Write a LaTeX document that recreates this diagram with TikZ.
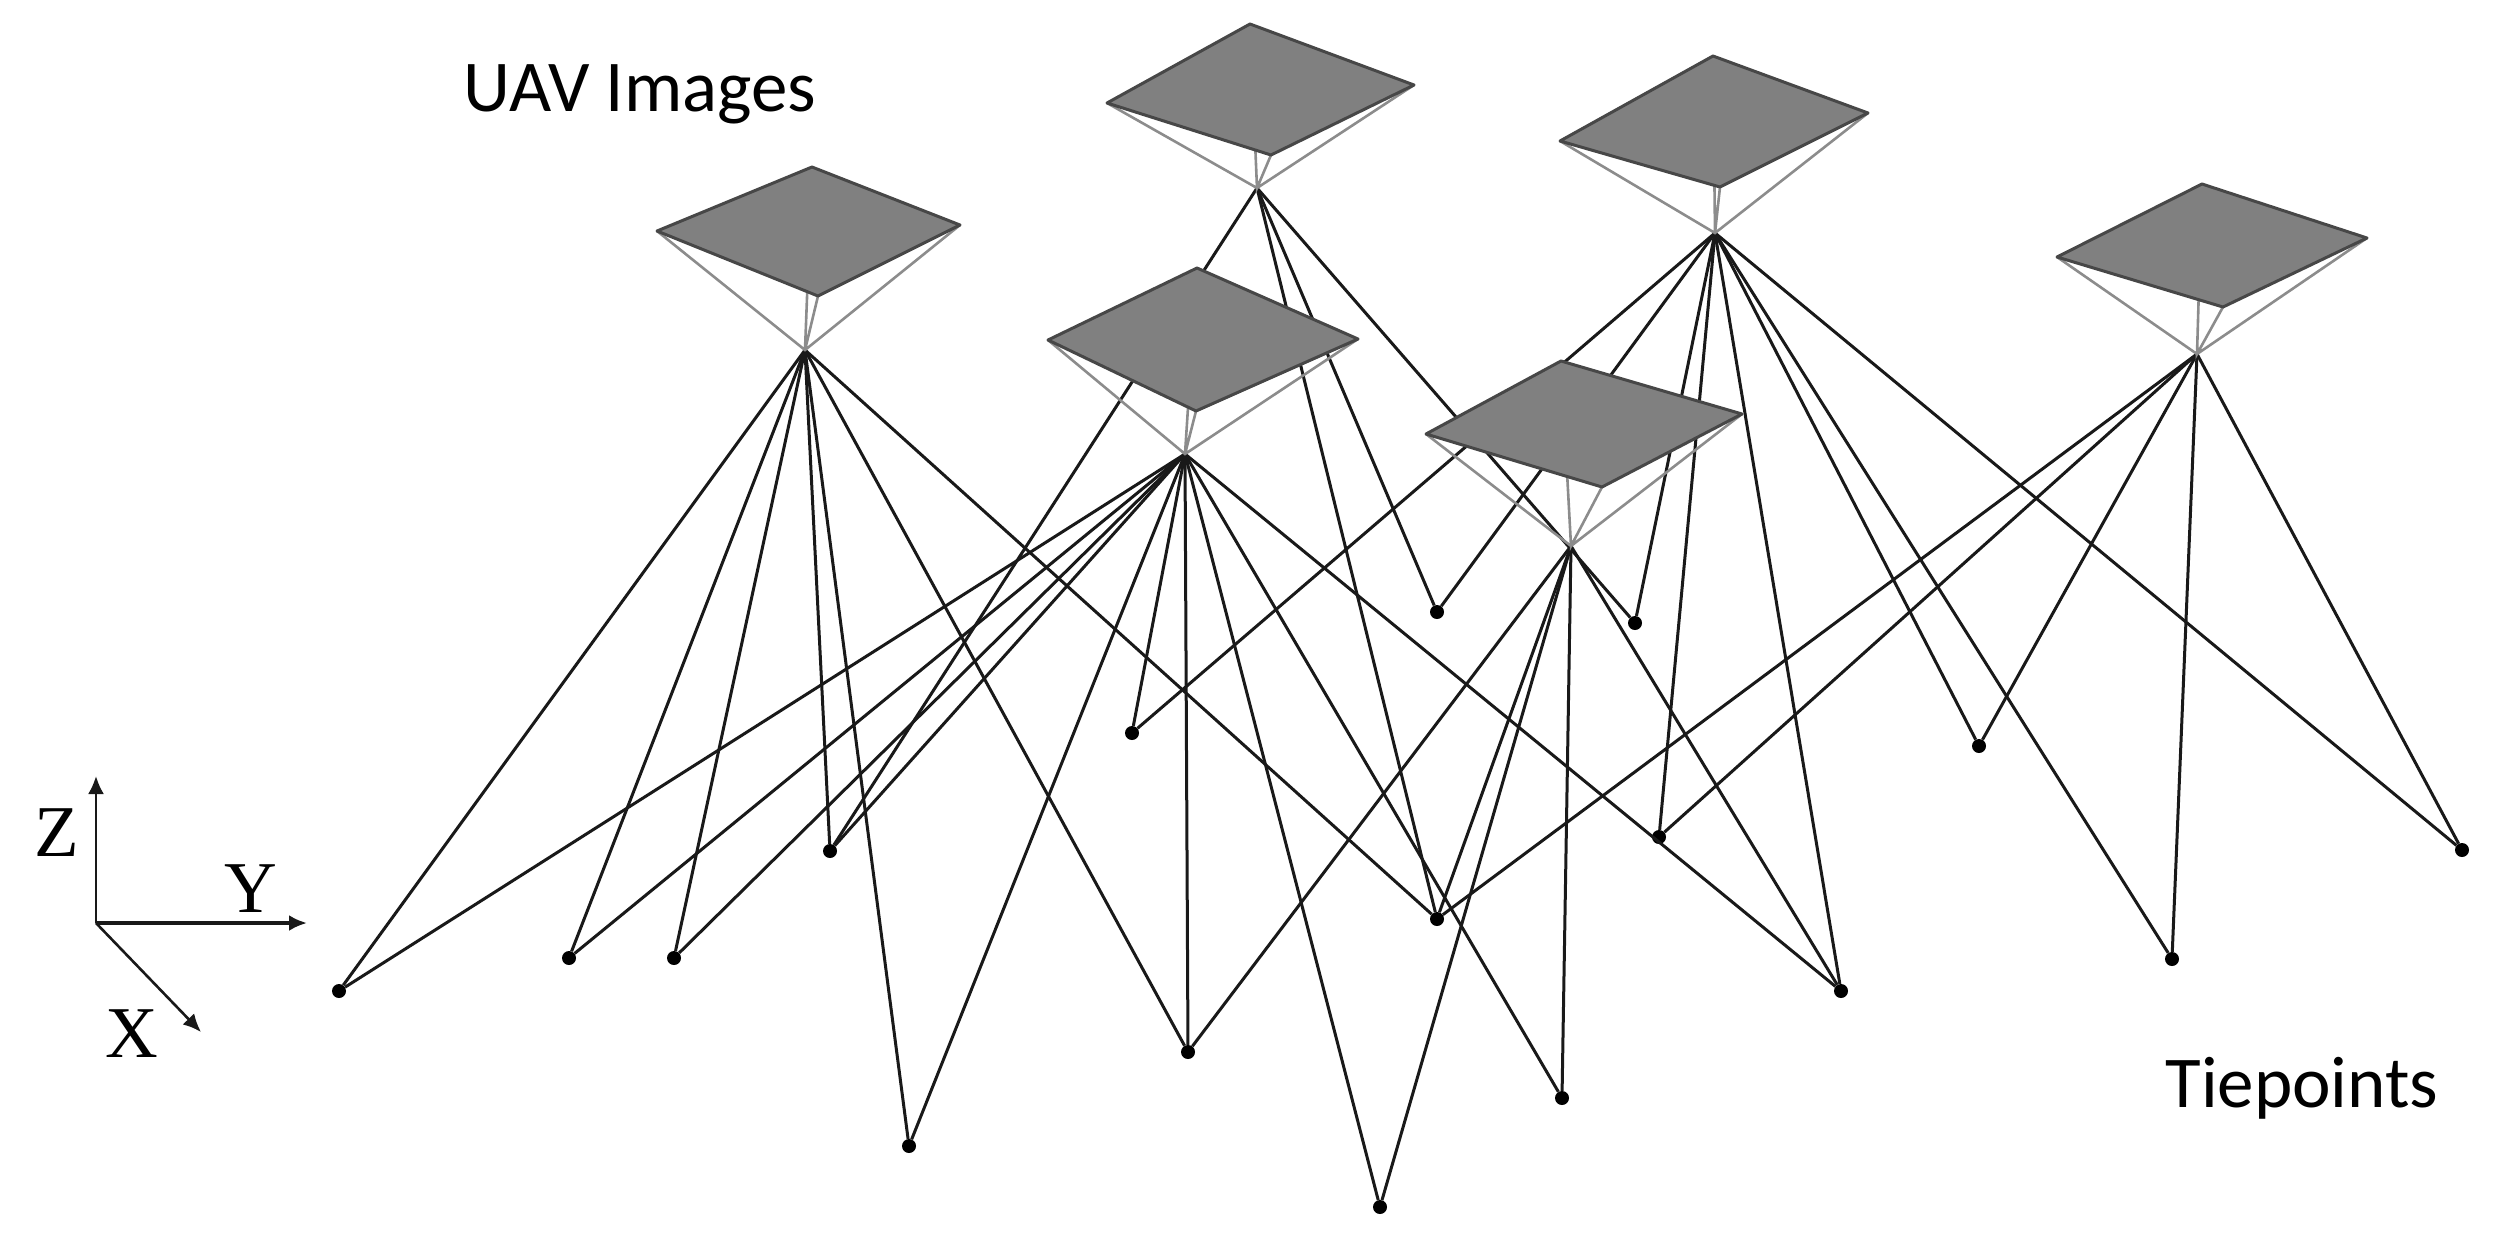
\documentclass[tikz,border=0pt]{standalone}
\usepackage{fontspec}
\setmainfont{Carlito}
\newfontfamily\axisfont{Liberation Serif}
\usetikzlibrary{arrows.meta}
\begin{document}
\begin{tikzpicture}[x=1pt,y=-1pt,>={Latex[length=18pt,width=16pt]},
  ray/.style={draw=black!90,line width=3pt},
  cone/.style={draw=black!45,line width=2.6pt},
  plate/.style={draw=black!72,line width=3pt,fill=black!50,line join=round},
  tie/.style={circle,fill=black,inner sep=0pt,minimum size=14pt},
  axis/.style={black!90,line width=2.6pt},
  axislab/.style={inner sep=0pt,font=\axisfont\fontsize{73}{73}\selectfont},
  lab/.style={inner sep=0pt,font=\fontsize{73}{73}\selectfont}]
  \useasboundingbox (0,0) rectangle (2504,1240);
  % perspective centres
  \coordinate (c1) at (805,350);
  \coordinate (c2) at (1257,188);
  \coordinate (c3) at (1185,454);
  \coordinate (c4) at (1715,233);
  \coordinate (c5) at (1571,546);
  \coordinate (c6) at (2197,354);
  % tiepoints
  \node[tie] (p1) at (339,991) {};
  \node[tie] (p2) at (569,958) {};
  \node[tie] (p3) at (674,958) {};
  \node[tie] (p4) at (830,851) {};
  \node[tie] (p5) at (909,1146) {};
  \node[tie] (p6) at (1132,733) {};
  \node[tie] (p7) at (1188,1052) {};
  \node[tie] (p8) at (1380,1207) {};
  \node[tie] (p9) at (1437,919) {};
  \node[tie] (p10) at (1437,612) {};
  \node[tie] (p11) at (1562,1098) {};
  \node[tie] (p12) at (1635,623) {};
  \node[tie] (p13) at (1659,837) {};
  \node[tie] (p14) at (1841,991) {};
  \node[tie] (p15) at (1979,746) {};
  \node[tie] (p16) at (2172,959) {};
  \node[tie] (p17) at (2462,850) {};
  % image rays
  \draw[ray] (c1)--(p1); \draw[ray] (c1)--(p2); \draw[ray] (c1)--(p3); \draw[ray] (c1)--(p4);
  \draw[ray] (c1)--(p5); \draw[ray] (c1)--(p7); \draw[ray] (c1)--(p9);
  \draw[ray] (c2)--(p4); \draw[ray] (c2)--(p9); \draw[ray] (c2)--(p10); \draw[ray] (c2)--(p12);
  \draw[ray] (c3)--(p1); \draw[ray] (c3)--(p2); \draw[ray] (c3)--(p3); \draw[ray] (c3)--(p4);
  \draw[ray] (c3)--(p5); \draw[ray] (c3)--(p6); \draw[ray] (c3)--(p7); \draw[ray] (c3)--(p8);
  \draw[ray] (c3)--(p11); \draw[ray] (c3)--(p14);
  \draw[ray] (c4)--(p6); \draw[ray] (c4)--(p10); \draw[ray] (c4)--(p12); \draw[ray] (c4)--(p13);
  \draw[ray] (c4)--(p14); \draw[ray] (c4)--(p15); \draw[ray] (c4)--(p16); \draw[ray] (c4)--(p17);
  \draw[ray] (c5)--(p7); \draw[ray] (c5)--(p8); \draw[ray] (c5)--(p9); \draw[ray] (c5)--(p11);
  \draw[ray] (c5)--(p14);
  \draw[ray] (c6)--(p9); \draw[ray] (c6)--(p13); \draw[ray] (c6)--(p15); \draw[ray] (c6)--(p16);
  \draw[ray] (c6)--(p17);
  % image planes
  \draw[cone] (657,231)--(c1)--(960,225) (812,167)--(c1)--(818,296);
  \draw[plate] (657,231)--(812,167)--(960,225)--(818,296)--cycle;
  \draw[cone] (1107,103)--(c2)--(1414,85) (1250,24)--(c2)--(1271,155);
  \draw[plate] (1107,103)--(1250,24)--(1414,85)--(1271,155)--cycle;
  \draw[cone] (1048,340)--(c3)--(1358,339) (1197,268)--(c3)--(1196,411);
  \draw[plate] (1048,340)--(1197,268)--(1358,339)--(1196,411)--cycle;
  \draw[cone] (1560,141)--(c4)--(1868,113) (1713,56)--(c4)--(1720,187);
  \draw[plate] (1560,141)--(1713,56)--(1868,113)--(1720,187)--cycle;
  \draw[cone] (1426,434)--(c5)--(1742,414) (1561,361)--(c5)--(1602,487);
  \draw[plate] (1426,434)--(1561,361)--(1742,414)--(1602,487)--cycle;
  \draw[cone] (2057,257)--(c6)--(2367,238) (2202,184)--(c6)--(2223,307);
  \draw[plate] (2057,257)--(2202,184)--(2367,238)--(2223,307)--cycle;
  % axes
  \coordinate (o) at (96,923);
  \coordinate (zend) at (96,776);
  \coordinate (yend) at (307,923);
  \coordinate (xend) at (201,1032);
  \draw[->,axis] (o)--(zend);
  \draw[->,axis,line width=3.4pt] (o)--(yend);
  \draw[->,axis] (o)--(xend);
  \node[axislab] (zlab) at (57,833) {Z};
  \node[axislab] (ylab) at (251,889) {Y};
  \node[axislab] (xlab) at (132,1034) {X};
  % labels
  \node[lab] (uav) at (640,94) {UAV Images};
  \node[lab] (tiepts) at (2302,1088) {Tiepoints};
\end{tikzpicture}
\end{document}
